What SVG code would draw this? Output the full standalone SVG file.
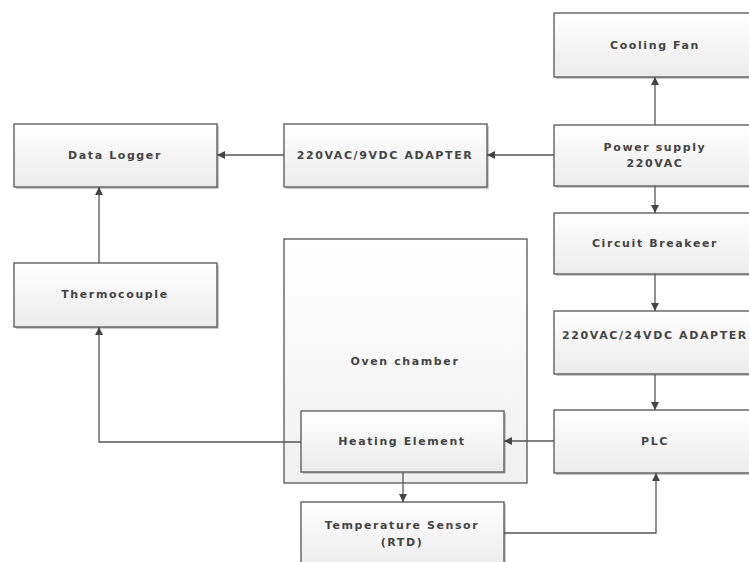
<svg xmlns="http://www.w3.org/2000/svg" width="749" height="562" viewBox="0 0 749 562">
<defs>
<linearGradient id="g" x1="0" y1="0" x2="0" y2="1">
<stop offset="0" stop-color="#ffffff"/>
<stop offset="1" stop-color="#ebebeb"/>
</linearGradient>
<linearGradient id="g2" x1="0" y1="0" x2="0" y2="1">
<stop offset="0" stop-color="#ffffff"/>
<stop offset="1" stop-color="#f0f0f0"/>
</linearGradient>
<marker id="a" viewBox="0 0 10 10" refX="10" refY="5" markerWidth="8" markerHeight="8" markerUnits="userSpaceOnUse" orient="auto">
<path d="M0,0 L10,5 L0,10 z" fill="#444"/>
</marker>
</defs>
<style>
.box{fill:url(#g);stroke:#555;stroke-width:1.3}
.sh{fill:none;stroke:#c8c8c8;stroke-width:2}
.t{font-family:"DejaVu Sans",Verdana,sans-serif;font-size:11px;font-weight:bold;fill:#444;text-anchor:middle;letter-spacing:1.6px}
.c{fill:none;stroke:#555;stroke-width:1.3;marker-end:url(#a)}
</style>
<rect width="749" height="562" fill="#fff"/>
<g id="oven">
<rect x="284" y="239" width="243" height="244" fill="url(#g2)" stroke="#555" stroke-width="1.3"/>
<text class="t" x="405" y="365">Oven chamber</text>
</g>
<g id="cooling-fan">
<path class="sh" d="M556,78 H757"/>
<rect class="box" x="554" y="13" width="202" height="64"/>
<text class="t" x="655" y="49">Cooling Fan</text>
</g>
<g id="power-supply">
<path class="sh" d="M556,187 H757"/>
<rect class="box" x="554" y="125" width="202" height="61"/>
<text class="t" x="655" y="151">Power supply</text>
<text class="t" x="655" y="167">220VAC</text>
</g>
<g id="data-logger">
<path class="sh" d="M16,188 H218 V126"/>
<rect class="box" x="14" y="124" width="203" height="63"/>
<text class="t" x="115" y="159">Data Logger</text>
</g>
<g id="adapter-9v">
<path class="sh" d="M286,188 H488 V126"/>
<rect class="box" x="284" y="124" width="203" height="63"/>
<text class="t" x="385" y="159">220VAC/9VDC ADAPTER</text>
</g>
<g id="circuit-breaker">
<path class="sh" d="M556,275 H757"/>
<rect class="box" x="554" y="213" width="202" height="61"/>
<text class="t" x="655" y="247">Circuit Breakeer</text>
</g>
<g id="adapter-24v">
<path class="sh" d="M556,375 H757"/>
<rect class="box" x="554" y="311" width="202" height="63"/>
<text class="t" x="655" y="339">220VAC/24VDC ADAPTER</text>
</g>
<g id="thermocouple">
<path class="sh" d="M16,328 H218 V265"/>
<rect class="box" x="14" y="263" width="203" height="64"/>
<text class="t" x="115" y="298">Thermocouple</text>
</g>
<g id="plc">
<path class="sh" d="M556,474 H757"/>
<rect class="box" x="554" y="410" width="202" height="63"/>
<text class="t" x="655" y="445">PLC</text>
</g>
<g id="heating-element">
<path class="sh" d="M303,473 H505 V413"/>
<rect class="box" x="301" y="411" width="203" height="61"/>
<text class="t" x="402" y="445">Heating Element</text>
</g>
<g id="temp-sensor">
<path class="sh" d="M505,504 V565"/>
<rect class="box" x="301" y="502" width="203" height="66"/>
<text class="t" x="402" y="529">Temperature Sensor</text>
<text class="t" x="402" y="546">(RTD)</text>
</g>
<g id="connectors">
<path class="c" d="M655,125 V77"/>
<path class="c" d="M554,155 H487"/>
<path class="c" d="M284,155 H217"/>
<path class="c" d="M655,186 V213"/>
<path class="c" d="M655,274 V311"/>
<path class="c" d="M655,374 V410"/>
<path class="c" d="M554,441 H504"/>
<path class="c" d="M301,442 H99 V327"/>
<path class="c" d="M99,263 V187"/>
<path class="c" d="M403,472 V502"/>
<path class="c" d="M504,533 H656 V473"/>
</g>
</svg>
